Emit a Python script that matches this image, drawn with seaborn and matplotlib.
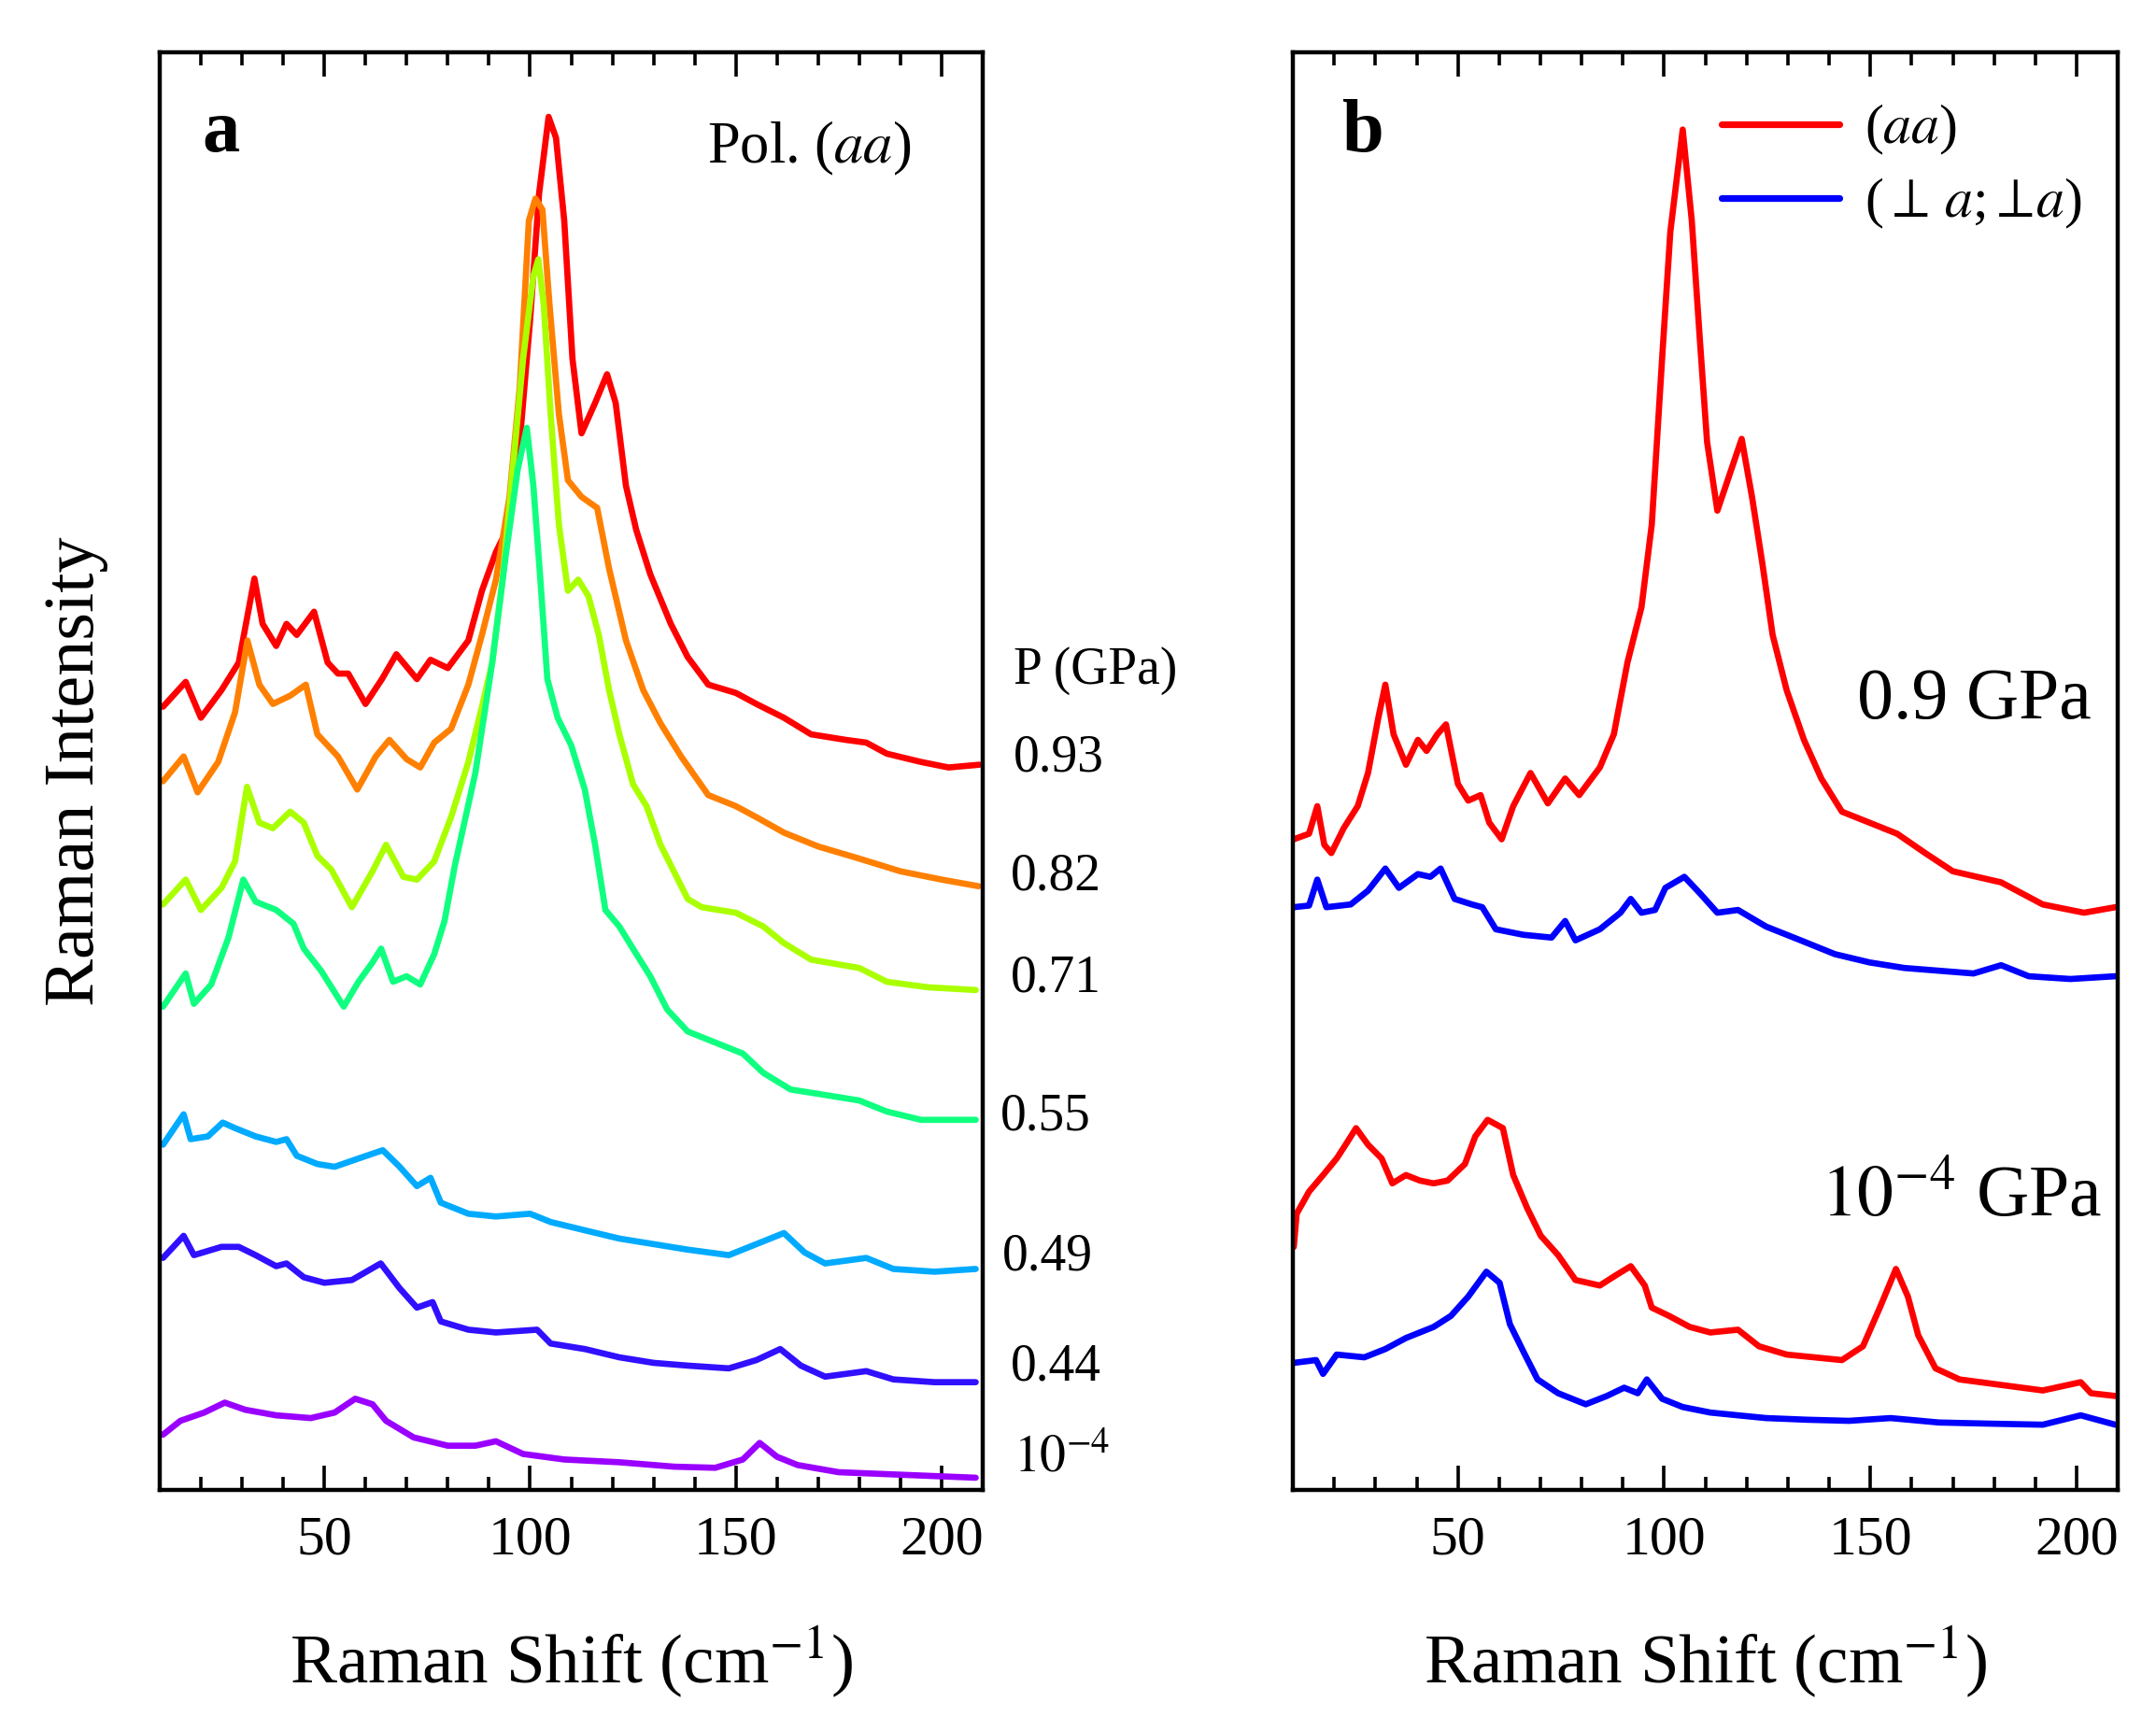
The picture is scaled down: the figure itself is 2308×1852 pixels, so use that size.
import numpy as np
import pandas as pd
import seaborn as sns
import matplotlib.pyplot as plt
from matplotlib.ticker import MultipleLocator

# ---- panel a: (aa) spectra vs pressure (offset traces, arb. units) ----
pressures = ["0.93", "0.82", "0.71", "0.55", "0.49", "0.44", "1e-4"]
pressure_labels = ["0.93", "0.82", "0.71", "0.55", "0.49", "0.44", "$10^{-4}$"]
colors_a = ["#ff0000", "#ff8000", "#aaff00", "#10ff80", "#00aaff", "#3010ff", "#9a00ff"]

shift_093 = [10.8, 16.3, 20, 25, 29.2, 33, 35, 38.3, 40.8, 43.3, 47.5, 50.8, 53.3, 55.8, 60,
             64, 67.5, 72.5, 75.8, 80, 85, 88.3, 91.7, 95, 97.5, 100, 102.2, 104.5, 106.3, 108.3,
             110.3, 112.5, 115.8, 118.7, 120.8, 123.3, 125.8, 129.2, 134.2, 138.3, 143.3, 150,
             155, 161.7, 168.3, 176.7, 181.7, 186.7, 195, 201.7, 209.2]
int_093 = [1418, 1463, 1398, 1448, 1498, 1650, 1568, 1528, 1568, 1548, 1590, 1498, 1478, 1478, 1423,
           1468, 1513, 1468, 1503, 1488, 1538, 1628, 1698, 1748, 1898, 2118, 2348, 2486, 2448, 2298,
           2048, 1913, 1968, 2020, 1968, 1818, 1738, 1658, 1568, 1508, 1458, 1443,
           1423, 1398, 1368, 1358, 1353, 1333, 1318, 1308, 1313]

shift_082 = [10.8, 15.8, 19.2, 24.2, 28.3, 31.3, 34.2, 37.5, 41.7, 45.5, 48.3, 53.3, 58, 62.5, 65.8,
             70, 73.3, 76.7, 80.8, 85, 88.3, 91.7, 95, 97.5, 99.7, 101.3, 103, 104.7, 107, 109.2,
             112.5, 116.3, 119.2, 123.3, 127.5, 131.7, 136.7, 143.3, 150, 155, 161.7, 170, 180,
             190, 200, 209]
int_082 = [1283, 1328, 1263, 1318, 1408, 1538, 1458, 1423, 1438, 1458, 1368, 1328, 1268, 1328, 1358,
           1323, 1308, 1353, 1378, 1458, 1548, 1648, 1798, 1998, 2298, 2338, 2318, 2148, 1948, 1828,
           1798, 1778, 1668, 1538, 1448, 1388, 1328, 1258, 1238, 1218, 1190, 1165, 1143,
           1120, 1105, 1093]

shift_071 = [10.8, 16.3, 20, 25, 28.3, 31.2, 34.2, 37.5, 41.7, 45, 48.3, 51.7, 56.7, 61.7, 65,
             69.2, 72.5, 76.7, 80.8, 85, 88.3, 90.8, 93.3, 95.8, 98.3, 100.8, 102, 103.3, 105, 107,
             109.2, 111.7, 114.2, 116.7, 119.2, 121.7, 125, 128.3, 131.7, 138.3, 141.7, 150, 156.7,
             161.7, 168.3, 180, 186.7, 196.7, 208.3]
int_071 = [1060, 1105, 1050, 1090, 1138, 1273, 1208, 1198, 1228, 1208, 1148, 1123, 1055, 1120, 1168,
           1110, 1105, 1138, 1218, 1318, 1418, 1498, 1648, 1848, 2048, 2198, 2228, 2148, 1948, 1748,
           1628, 1648, 1618, 1548, 1448, 1368, 1278, 1238, 1168, 1070, 1055, 1045, 1020,
           990, 960, 945, 920, 910, 905]

shift_055 = [10.8, 16.3, 18.3, 22.5, 26.7, 30.3, 33.3, 38.3, 42.5, 45, 49.2, 54.7, 58.3, 61.7, 63.8,
             66.7, 70, 73.3, 76.7, 79.2, 81.7, 86.7, 90.8, 94.2, 97, 99.2, 100.8, 102.5, 104.2, 106.7,
             110, 113.3, 115.8, 118.3, 121.7, 125, 129.2, 133.3, 138.3, 145, 151.7, 156.7, 163.3,
             171.7, 180, 186.7, 195, 208.3]
int_055 = [875, 935, 880, 915, 1000, 1105, 1065, 1050, 1025, 980, 940, 875, 920, 955, 980,
           920, 930, 915, 970, 1030, 1130, 1298, 1498, 1698, 1848, 1923, 1818, 1648, 1468, 1398,
           1348, 1268, 1168, 1050, 1020, 980, 930, 870, 830, 810, 790, 755, 725,
           715, 705, 685, 670, 670]

shift_049 = [10.8, 15.8, 17.5, 21.7, 25.3, 28.3, 33.3, 38.3, 40.8, 43.3, 48.3, 52.5, 58.3, 64.2, 68.3,
             72.5, 75.8, 78.3, 85, 91.7, 100, 105, 113.3, 121.7, 130, 138.3, 148.3, 155, 161.7, 166.7,
             171.7, 181.7, 188.3, 198.3, 208.3]
int_049 = [625, 680, 635, 640, 665, 655, 640, 630, 635, 605, 590, 585, 600, 615, 585,
           550, 565, 520, 500, 495, 500, 485, 470, 455, 445, 435, 425, 445, 465, 430,
           410, 420, 400, 395, 400]

shift_044 = [10.8, 15.8, 18.3, 25, 29.2, 33.3, 38.3, 40.8, 45, 50, 56.7, 63.7, 68.3, 72.5, 76.3,
             78.3, 85, 91.7, 101.7, 105, 113.3, 121.7, 130, 138.3, 148.3, 155, 160.8, 165.8, 171.7,
             181.7, 188.3, 198.3, 208.3]
int_044 = [420, 460, 425, 440, 440, 425, 405, 410, 385, 375, 380, 410, 365, 330, 340,
           305, 290, 285, 290, 265, 255, 240, 230, 225, 220, 235, 255, 225, 205,
           215, 200, 195, 195]

shift_amb = [10.8, 15, 20.8, 25.8, 30.8, 38.3, 46.7, 52.5, 57.5, 61.7, 65, 71.7, 80, 86.7, 91.7,
             98.3, 108.3, 121.7, 135, 145, 151.7, 155.8, 160, 165, 175, 188.3, 208.3]
int_amb = [100, 125, 140, 158, 145, 135, 130, 140, 165, 155, 125, 95, 80, 80, 88,
           65, 55, 50, 42, 40, 55, 85, 60, 45, 32, 28, 22]

# ---- panel b: (aa) vs (perp a; perp a) at 0.9 GPa and 1e-4 GPa ----
pol_labels = ["($aa$)", r"($\perp\,a$;$\perp\!a$)"]
colors_b = ["#ff0000", "#0000ff"]

shift_b_aa_09 = [10.2, 13.9, 15.9, 17.6, 19.3, 22.3, 25.7, 28.2, 30.7, 32.4, 34.4, 37.4, 40.3, 42.4, 45,
                 47.1, 50, 52.5, 55.5, 57.6, 60.6, 63.4, 67.6, 71.8, 76, 79.4, 84.4, 87.8, 91.1, 94.5,
                 97, 99.5, 101.5, 104.5, 106.7, 108.7, 110.4, 112.9, 116.3, 118.8, 121.3, 123.8, 126.3,
                 129.7, 133.9, 138.1, 143.1, 149.8, 156.5, 163.3, 170, 181.7, 191.8, 201.8, 209.4]
int_b_aa_09 = [1178, 1188, 1238, 1168, 1153, 1198, 1238, 1298, 1398, 1458, 1368, 1313, 1358, 1338, 1368,
               1386, 1278, 1248, 1258, 1208, 1178, 1238, 1298, 1243, 1288, 1258, 1308, 1368, 1498, 1598,
               1748, 2048, 2278, 2463, 2298, 2078, 1898, 1773, 1848, 1903, 1798, 1678, 1548,
               1448, 1358, 1288, 1228, 1208, 1188, 1153, 1120, 1100, 1060, 1045, 1055]

shift_b_pp_09 = [10.2, 13.9, 15.9, 18.1, 24, 28.2, 32.4, 35.7, 40.3, 43.3, 45.8, 49.2, 53.4, 55.9, 59.2,
                 65.9, 72.7, 76, 78.5, 84.4, 89.4, 91.9, 94.5, 97.8, 100.3, 104.9, 108.7, 112.9, 117.9,
                 124.7, 133.1, 141.4, 149.8, 158.2, 166.6, 175, 181.7, 188.4, 198.5, 209.4]
int_b_pp_09 = [1055, 1058, 1105, 1055, 1060, 1085, 1125, 1090, 1115, 1110, 1125, 1070, 1060, 1055, 1015,
               1005, 1000, 1030, 995, 1015, 1045, 1070, 1045, 1050, 1090, 1110, 1080, 1045, 1050,
               1020, 995, 970, 955, 945, 940, 935, 950, 930, 925, 930]

shift_b_aa_amb = [10.2, 10.9, 13.9, 17.3, 20.6, 23.2, 25.3, 28.2, 31.5, 34.1, 37.4, 40.8, 44.1, 47.5, 51.7,
                  54.2, 57.2, 60.9, 63.4, 66.8, 70.1, 74.3, 78.5, 84.4, 88.6, 91.9, 95.3, 97, 101.2, 106.2,
                  111.2, 117.9, 123, 129.7, 136.4, 143.1, 148.2, 152.3, 156.2, 159.1, 161.6, 165.8, 171.6,
                  181.7, 191.8, 201, 203.5, 209.4]
int_b_aa_amb = [440, 500, 540, 570, 600, 630, 655, 625, 600, 555, 570, 560, 555, 560, 590,
                640, 670, 655, 570, 510, 460, 425, 380, 370, 390, 405, 370, 330, 315, 295,
                285, 290, 260, 245, 240, 235, 260, 330, 400, 350, 280, 220, 200,
                190, 180, 195, 175, 170]

shift_b_pp_amb = [10.2, 15.6, 17.3, 20.6, 27.3, 32.4, 37.4, 44.1, 48.3, 52.5, 56.9, 60.1, 62.6, 65.9, 69.3,
                  74.3, 81, 86.1, 90.3, 93.6, 95.8, 99.5, 104.5, 111.2, 117.9, 124.7, 134.7, 144.8, 154.9,
                  166.6, 178.4, 191.8, 201, 209.4]
int_b_pp_amb = [230, 235, 210, 245, 240, 255, 275, 295, 315, 350, 395, 375, 300, 250, 200,
                175, 155, 170, 185, 175, 200, 165, 150, 140, 135, 130, 127, 125, 130,
                122, 120, 118, 135, 118]

# build long tables
curves_a = [(shift_093, int_093), (shift_082, int_082), (shift_071, int_071), (shift_055, int_055),
            (shift_049, int_049), (shift_044, int_044), (shift_amb, int_amb)]
df_a = pd.concat([pd.DataFrame({"shift": s, "intensity": i, "P": p})
                  for (s, i), p in zip(curves_a, pressures)], ignore_index=True)

curves_b = [(shift_b_aa_09, int_b_aa_09, pol_labels[0], "0.9"),
            (shift_b_pp_09, int_b_pp_09, pol_labels[1], "0.9"),
            (shift_b_aa_amb, int_b_aa_amb, pol_labels[0], "1e-4"),
            (shift_b_pp_amb, int_b_pp_amb, pol_labels[1], "1e-4")]
df_b = pd.concat([pd.DataFrame({"shift": s, "intensity": i, "pol": pol, "P": p})
                  for s, i, pol, p in curves_b], ignore_index=True)

sns.set_style("ticks")
plt.rcParams["font.family"] = ["Liberation Serif", "DejaVu Serif"]
plt.rcParams["mathtext.fontset"] = "stix"
plt.rcParams["axes.linewidth"] = 1.6
for key in ["text.color", "axes.labelcolor", "axes.edgecolor", "xtick.color", "ytick.color"]:
    plt.rcParams[key] = "black"

fig = plt.figure(figsize=(11.54, 9.26), dpi=200)
ax_a = fig.add_axes([0.0741, 0.1388, 0.3817, 0.831])
ax_b = fig.add_axes([0.5997, 0.1388, 0.3826, 0.831])

sns.lineplot(data=df_a, x="shift", y="intensity", hue="P", hue_order=pressures, palette=colors_a,
             estimator=None, sort=False, legend=False, lw=2.4, ax=ax_a)
sns.lineplot(data=df_b, x="shift", y="intensity", hue="pol", hue_order=pol_labels, palette=colors_b,
             units="P", estimator=None, sort=False, lw=2.4, ax=ax_b)

for ax in (ax_a, ax_b):
    ax.set_xlim(10, 210)
    ax.set_ylim(0, 2603)
    ax.xaxis.set_major_locator(MultipleLocator(50))
    ax.xaxis.set_minor_locator(MultipleLocator(10))
    ax.tick_params(axis="x", which="both", direction="in", top=True, bottom=True,
                   labelsize=21.5, pad=10, width=1.3, colors="black")
    ax.tick_params(axis="x", which="major", length=9.5)
    ax.tick_params(axis="x", which="minor", length=5)
    ax.tick_params(axis="y", which="both", left=False, right=False, labelleft=False)
    ax.set_xlabel("Raman Shift (cm$^{-1}$)", fontsize=27)
    ax.xaxis.set_label_coords(0.5, -0.093)
    for sp in ax.spines.values():
        sp.set_visible(True)
        sp.set_linewidth(1.6)
        sp.set_color("black")
    ax.set_ylabel("")

ax_a.set_ylabel("Raman Intensity", fontsize=27.5)
ax_a.yaxis.set_label_coords(-0.062, 0.5)

# panel labels
ax_a.text(0.052, 0.931, "a", transform=ax_a.transAxes, fontsize=29, fontweight="bold", va="baseline")
ax_b.text(0.060, 0.931, "b", transform=ax_b.transAxes, fontsize=29, fontweight="bold", va="baseline")
ax_a.text(0.913, 0.923, "Pol. ($aa$)", transform=ax_a.transAxes, fontsize=22.5, ha="right", va="baseline")

# pressure labels to the right of panel a
fig.text(0.470, 1 - 718 / 1852, "P (GPa)", fontsize=20, va="center")
label_y = [812, 938, 1047, 1195, 1345, 1463, 1562]
label_x = [1085, 1082, 1082, 1071, 1073, 1082, 1085]
for lab, lx, ly in zip(pressure_labels, label_x, label_y):
    fig.text(lx / 2308, 1 - ly / 1852, lab, fontsize=20, va="center")

# panel b annotations
ax_b.text(0.968, 0.537, "0.9 GPa", transform=ax_b.transAxes, fontsize=28, ha="right", va="baseline")
ax_b.text(0.981, 0.191, "$10^{-4}$ GPa", transform=ax_b.transAxes, fontsize=28, ha="right", va="baseline")

sns.move_legend(ax_b, "upper left", bbox_to_anchor=(0.52, 0.965), frameon=False, title=None,
                fontsize=21.5, handlelength=2.1, handletextpad=0.45, labelspacing=0.35,
                borderaxespad=0, borderpad=0)
for line in ax_b.get_legend().get_lines():
    line.set_linewidth(2.6)

fig.savefig("out.png", dpi=200)
